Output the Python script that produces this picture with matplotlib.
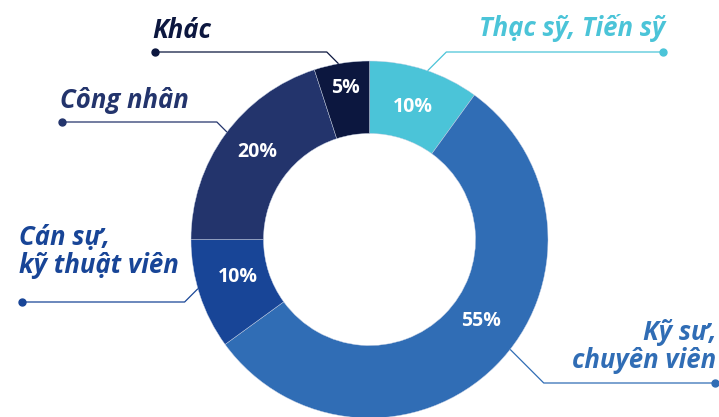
import numpy as np
import matplotlib
matplotlib.use("Agg")
import matplotlib.pyplot as plt

# dữ liệu
labels = ['Thạc sỹ, Tiến sỹ', 'Kỹ sư,\nchuyên viên', 'Cán sự,\nkỹ thuật viên', 'Công nhân', 'Khác']
shares = [10, 55, 10, 20, 5]
pct_labels = ['10%', '55%', '10%', '20%', '5%']
colors = ['#4BC4D8', '#306DB5', '#184597', '#23346C', '#0C173F']

W, H = 719, 417
CX, CY, R = 369.5, H - 239.5, 178.5
HOLE = 0.594

# bố cục nhãn (pixel, gốc ở góc trên trái)
pct_off = [0, 9, -2, -2, 0]          # lệch góc so với giữa lát
pct_rad = [0.78, 0.775, 0.77, 0.80, 0.86]
lead_off = [-1, 7, -2, -1, 1]         # góc điểm nối trên vành
line_y = [52, 383, 302, 122, 52]
dot_x = [663, 715, 22, 62, 155]
text_x = [665, 716, 19, 60, 152]
text_y = [36, 340, 245, 108, 38]
text_ha = ['right', 'right', 'left', 'left', 'left']
LINE_GAP = 28

fig = plt.figure(figsize=(W / 100, H / 100), dpi=100)
ax = fig.add_axes([0, 0, 1, 1])

wedges, _ = ax.pie(shares, colors=colors, startangle=90, counterclock=False,
                   radius=R, center=(CX, CY),
                   wedgeprops=dict(width=R * (1 - HOLE), edgecolor='#c9d3e6', linewidth=0.3))
ax.set_xlim(0, W)
ax.set_ylim(0, H)
ax.set_aspect('equal')
ax.axis('off')

font = 'Open Sans'
for i, w in enumerate(wedges):
    mid = (w.theta1 + w.theta2) / 2
    # phần trăm
    a = np.radians(mid + pct_off[i])
    ax.text(CX + R * pct_rad[i] * np.cos(a), CY + R * pct_rad[i] * np.sin(a), pct_labels[i],
            color='white', fontsize=14, fontweight='bold', family=font,
            ha='center', va='center')
    # đường dẫn
    b = np.radians(mid + lead_off[i])
    ex, ey = CX + R * np.cos(b), CY + R * np.sin(b)
    ly = H - line_y[i]
    step = abs(ey - ly)
    elx = ex + step if dot_x[i] > ex else ex - step
    ax.plot([ex, elx, dot_x[i]], [ey, ly, ly], color=colors[i], lw=0.9,
            solid_capstyle='butt')
    ax.plot(dot_x[i], ly, 'o', color=colors[i], markersize=5)
    # nhãn
    for k, line in enumerate(labels[i].split('\n')):
        ax.text(text_x[i], H - text_y[i] - k * LINE_GAP, line, color=colors[i],
                fontsize=18.5, fontweight='bold', fontstyle='italic', family=font,
                ha=text_ha[i], va='baseline')

fig.savefig('out.png', dpi=100)
